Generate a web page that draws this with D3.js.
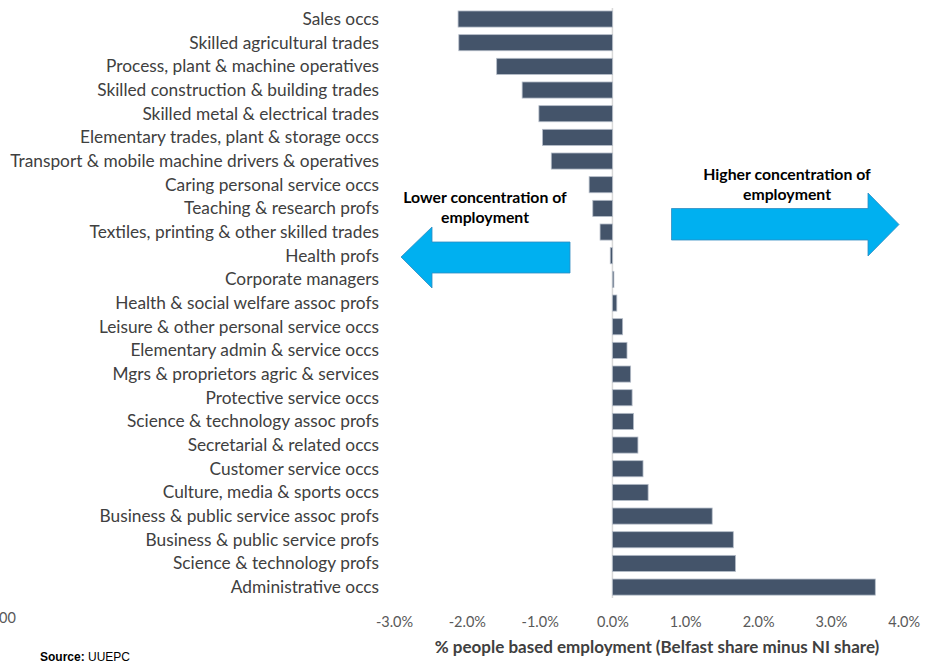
<!DOCTYPE html>
<html><head><meta charset="utf-8">
<script src="https://cdn.jsdelivr.net/npm/d3@7"></script>
<style>html,body{margin:0;padding:0;background:#fff;}svg{display:block;}</style>
</head><body>
<svg id="chart" width="932" height="663"></svg>
<script>
const categories = [
  "Sales occs","Skilled agricultural trades","Process, plant & machine operatives",
  "Skilled construction & building trades","Skilled metal & electrical trades",
  "Elementary trades, plant & storage occs","Transport & mobile machine drivers & operatives",
  "Caring personal service occs","Teaching & research profs","Textiles, printing & other skilled trades",
  "Health profs","Corporate managers","Health & social welfare assoc profs",
  "Leisure & other personal service occs","Elementary admin & service occs",
  "Mgrs & proprietors agric & services","Protective service occs","Science & technology assoc profs",
  "Secretarial & related occs","Customer service occs","Culture, media & sports occs",
  "Business & public service assoc profs","Business & public service profs",
  "Science & technology profs","Administrative occs"
];
const values = [
  -2.12,-2.11,-1.59,-1.24,-1.01,-0.96,-0.84,-0.32,-0.27,-0.17,
  -0.03,0.02,0.06,0.14,0.20,0.25,0.27,0.29,0.35,0.42,0.49,1.37,1.66,1.69,3.61
];
const tickValues = [-3,-2,-1,0,1,2,3,4];
const tickLabels = ["-3.0%","-2.0%","-1.0%","0.0%","1.0%","2.0%","3.0%","4.0%"];
const axisTitle = "% people based employment (Belfast share minus NI share)";
const lowerText = ["Lower concentration of","employment"];
const higherText = ["Higher concentration of","employment"];

const svg = d3.select("#chart");
const x = d3.scaleLinear().domain([-3,4]).range([394,903.7]);
const y = d3.scaleBand().domain(categories).range([3.4,602.7]).padding(0.32);

// zero line
svg.append("line").attr("x1",x(0)).attr("x2",x(0)).attr("y1",8).attr("y2",598)
  .attr("stroke","#d9d9d9").attr("stroke-width",1.5);

// bars
svg.append("g").selectAll("rect").data(values).join("rect")
  .attr("x",(d)=>x(Math.min(0,d)))
  .attr("width",(d)=>Math.abs(x(d)-x(0)))
  .attr("y",(d,i)=>y(categories[i]))
  .attr("height",y.bandwidth())
  .attr("fill","#44546a").attr("stroke","#b4bcc8").attr("stroke-width",0.8);

// category labels
svg.append("g").selectAll("text").data(categories).join("text")
  .attr("x",379).attr("y",(d)=>y(d)+y.bandwidth()/2)
  .attr("dy","0.35em").attr("text-anchor","end")
  .attr("font-family","Lato, sans-serif").attr("font-size",17.3).attr("fill","#404040")
  .text(d=>d);

// x axis (tick labels only)
const xAxis = d3.axisBottom(x).tickValues(tickValues).tickSize(0)
  .tickFormat((d,i)=>tickLabels[i]);
const gx = svg.append("g").attr("transform","translate(0,614)").call(xAxis);
gx.select(".domain").remove();
gx.selectAll("text").attr("font-family","Lato, sans-serif").attr("font-size",14.5).attr("fill","#595959");

svg.append("text").attr("x",657).attr("y",653).attr("text-anchor","middle")
  .attr("font-family","Lato, sans-serif").attr("font-weight","bold").attr("font-size",17)
  .attr("fill","#404040").text(axisTitle);

// stray label
svg.append("text").attr("x",-1).attr("y",623).attr("font-family","Lato, sans-serif")
  .attr("font-size",14.5).attr("fill","#595959").text("00");

// source
const src = svg.append("text").attr("x",40).attr("y",661).attr("font-family","Liberation Sans, Arial, sans-serif")
  .attr("font-size",12).attr("fill","#000");
src.append("tspan").attr("font-weight","bold").text("Source:");
src.append("tspan").text(" UUEPC");

// arrows
const line = d3.line();
svg.append("path").attr("d", line([[401,257],[432,227],[432,242],[570,242],[570,273],[432,273],[432,288]])+"Z")
  .attr("fill","#00b0f0").attr("stroke","#2e8bc0").attr("stroke-width",0.8);
svg.append("path").attr("d", line([[899,224.5],[868,193],[868,208.5],[671.5,208.5],[671.5,240],[868,240],[868,256]])+"Z")
  .attr("fill","#00b0f0").attr("stroke","#2e8bc0").attr("stroke-width",0.8);

svg.append("g").selectAll("text").data(lowerText).join("text")
  .attr("x",485).attr("y",(d,i)=>203+i*20).attr("text-anchor","middle")
  .attr("font-family","Lato, sans-serif").attr("font-weight","bold").attr("font-size",15.8)
  .attr("fill","#000").text(d=>d);
svg.append("g").selectAll("text").data(higherText).join("text")
  .attr("x",787).attr("y",(d,i)=>180+i*20).attr("text-anchor","middle")
  .attr("font-family","Lato, sans-serif").attr("font-weight","bold").attr("font-size",15.8)
  .attr("fill","#000").text(d=>d);
</script>
</body></html>
